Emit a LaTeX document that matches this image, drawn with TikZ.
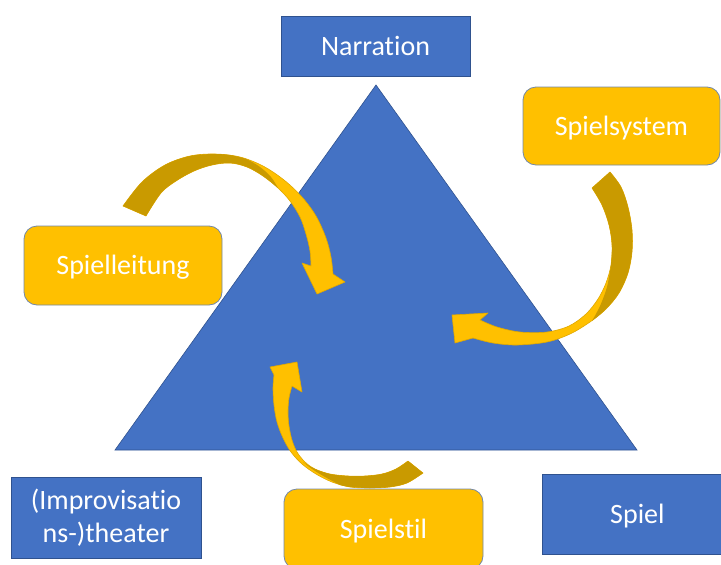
\documentclass[tikz,border=0pt]{standalone}
\usepackage{fontspec}
\setmainfont{Carlito}[Ligatures={NoCommon,NoDiscretionary,NoContextual}]
\definecolor{pblue}{HTML}{4472C4}
\definecolor{pblueline}{HTML}{2F528F}
\definecolor{pgold}{HTML}{FFC000}
\definecolor{pdark}{HTML}{C99A00}
\definecolor{pgoldline}{HTML}{E0A800}
\definecolor{pyline}{HTML}{7388A8}
\begin{document}
\begin{tikzpicture}[x=1pt,y=-1pt,
  lbl/.style={text=white,font=\fontsize{28}{33}\selectfont,align=center,inner sep=0pt},
  oneline/.style={text height=18.5pt,text depth=0pt},
  bluebox/.style={lbl,fill=pblue,draw=pblueline,line width=0.8pt},
  goldbox/.style={lbl,oneline,fill=pgold,draw=pyline,line width=0.8pt,rounded corners=13pt},
  face/.style={fill=pgold,draw=pgoldline,line width=0.6pt,line join=round},
  back/.style={fill=pdark}]
\useasboundingbox (0,0) rectangle (721,565);
\clip (0,0) rectangle (721,565);
% triangle
\coordinate (apex) at (376,85);
\coordinate (bl) at (115,450);
\coordinate (br) at (637,450);
\fill[pblue,draw=pblueline,line width=0.6pt] (apex) -- (br) -- (bl) -- cycle;
% blue boxes
\node[bluebox,oneline,minimum width=189pt,minimum height=60pt] (narr) at (375.5,46) {Narration};
\node[bluebox,minimum width=190pt,minimum height=81pt] (impro) at (106,517.5) {\raisebox{-2pt}{(Improvisatio}\\\raisebox{-2pt}{ns-)theater}};
\node[bluebox,oneline,minimum width=190pt,minimum height=80pt,anchor=west] (spiel) at (542,514) {Spiel};
% arrow 1 (Spielleitung)
\path[face] plot[smooth,tension=0.55] coordinates {(123,206) (142,182) (165,165) (190,156) (215,154) (240,157) (263,166) (284,180) (302,197) (316,216) (326,238) (331,257) (333,274)}
  -- (345,282) -- (317,294) -- (302,263) -- (311,266)
  -- plot[smooth,tension=0.55] coordinates {(311,266) (310,251) (306,234) (300,217) (290,201) (278,188) (263,176) (247,167) (230,163) (212,165) (194,171) (176,181) (161,193) (146,216)} -- cycle;
\path[back] plot[smooth,tension=0.55] coordinates {(123,206) (142,182) (165,165) (190,156) (215,154) (230,155)}
  -- plot[smooth,tension=0.55] coordinates {(230,155) (246,159) (260,167) (271,177) (278,188)}
  -- plot[smooth,tension=0.55] coordinates {(278,188) (263,176) (247,167) (230,163) (212,165) (194,171) (176,181) (161,193) (146,216)} -- cycle;
% arrow 2 (Spielsystem)
\path[face] plot[smooth,tension=0.55] coordinates {(610,172) (621,187) (628,207) (632,230) (632,252) (628,273) (619,293) (606,309) (590,322) (570,334) (547,342) (517,345) (493,343) (473,338)}
  -- (455,343) -- (452,315) -- (488,313) -- (480,320)
  -- plot[smooth,tension=0.55] coordinates {(480,320) (497,327) (520,332) (547,332) (569,326) (586,314) (598,299) (606,283) (611,265) (612,245) (609,225) (602,205) (592,188)} -- cycle;
\path[back] plot[smooth,tension=0.55] coordinates {(610,172) (621,187) (628,207) (632,230) (632,252) (628,273) (619,293) (606,309) (592,321)}
  -- plot[smooth,tension=0.55] coordinates {(592,321) (600,306) (607,287) (611,265)}
  -- plot[smooth,tension=0.55] coordinates {(611,265) (612,245) (609,225) (602,205) (592,188)} -- cycle;
% arrow 3 (Spielstil)
\path[face] plot[smooth,tension=0.55] coordinates {(423,473) (407,483) (390,487) (370,488) (350,487) (332,482) (316,474) (302,464) (291,452) (283,438) (277,422) (274,405) (273,388) (274,375)}
  -- (270,367) -- (297,362) -- (302,392) -- (292,386)
  -- plot[smooth,tension=0.55] coordinates {(292,386) (289,398) (288,412) (289,426) (292,440) (297,452) (305,462) (315,469) (330,474) (348,476) (365,476) (382,474) (396,469) (408,461)} -- cycle;
\path[back] plot[smooth,tension=0.55] coordinates {(423,473) (407,483) (390,487) (370,488) (350,487) (340,485)}
  -- plot[smooth,tension=0.55] coordinates {(340,485) (325,477) (312,469) (303,462)}
  -- plot[smooth,tension=0.55] coordinates {(303,462) (315,469) (330,474) (348,476) (365,476) (382,474) (396,469) (408,461)} -- cycle;
% gold boxes
\node[goldbox,minimum width=197pt,minimum height=78pt] (sys) at (621.5,126) {Spielsystem};
\node[goldbox,minimum width=198pt,minimum height=79pt] (leit) at (123,265.5) {Spielleitung};
\node[goldbox,minimum width=199pt,minimum height=80pt] (stil) at (383.5,529) {Spielstil};
\end{tikzpicture}
\end{document}
